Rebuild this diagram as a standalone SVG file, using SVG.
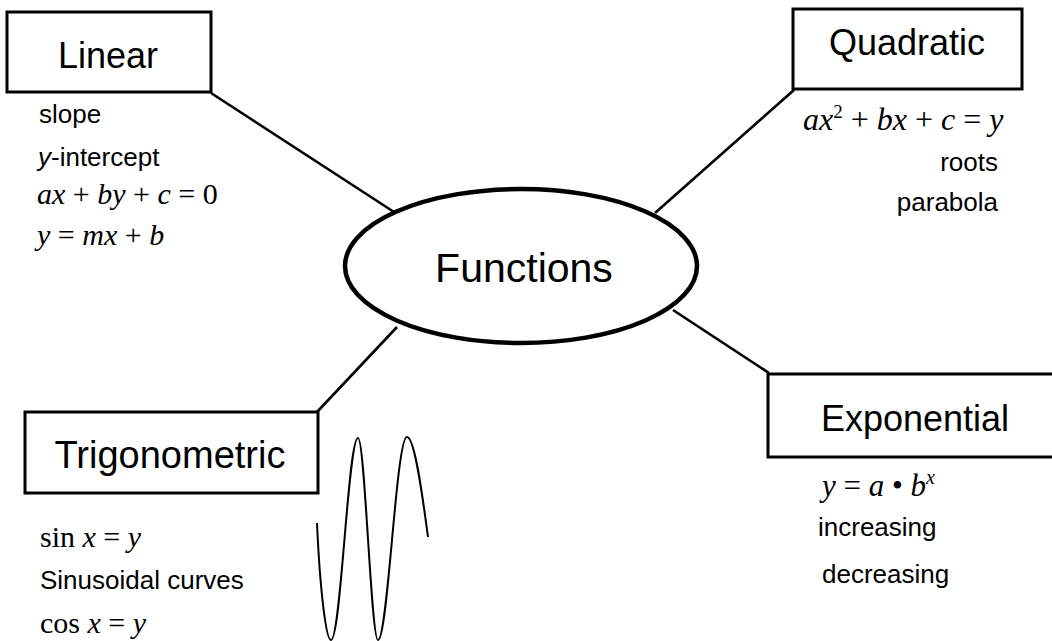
<svg xmlns="http://www.w3.org/2000/svg" width="1052" height="641" viewBox="0 0 1052 641">
<style>
.box{fill:#fff;stroke:#000;stroke-width:3}
.lbl{font-family:"Liberation Sans",Arial,sans-serif;font-size:36px;fill:#000;text-anchor:middle}
.note{font-family:"Liberation Sans",Arial,sans-serif;font-size:26px;fill:#000}
.math{font-family:"Liberation Serif","Times New Roman",serif;font-size:30px;fill:#000}
.it{font-style:italic}
.conn{stroke:#000;stroke-width:2.6;fill:none}
</style>
<rect width="1052" height="641" fill="#fff"/>
<g id="connectors">
<line class="conn" x1="211" y1="93" x2="394" y2="212"/>
<line class="conn" x1="794" y1="90" x2="655" y2="213"/>
<line class="conn" x1="397" y1="327" x2="317" y2="412"/>
<line class="conn" x1="673" y1="310" x2="769" y2="373"/>
</g>
<g id="functions">
<ellipse cx="521" cy="266" rx="176" ry="77" fill="#fff" stroke="#000" stroke-width="4.5"/>
<text class="lbl" x="524" y="282" style="font-size:41px">Functions</text>
</g>
<g id="linear">
<rect class="box" x="7" y="12" width="204" height="80"/>
<text class="lbl" x="108" y="68">Linear</text>
<text class="note" x="39" y="123">slope</text>
<text class="note" x="38" y="166"><tspan class="it">y</tspan>-intercept</text>
<text class="math" x="37" y="204"><tspan class="it">ax</tspan> + <tspan class="it">by</tspan> + <tspan class="it">c</tspan> = 0</text>
<text class="math" x="37" y="245"><tspan class="it">y</tspan> = <tspan class="it">mx</tspan> + <tspan class="it">b</tspan></text>
</g>
<g id="quadratic">
<rect class="box" x="793" y="9" width="229" height="80"/>
<text class="lbl" x="907" y="55">Quadratic</text>
<text class="math" x="803" y="130" style="font-size:32px"><tspan class="it">ax</tspan><tspan dy="-12" style="font-size:19px">2</tspan><tspan dy="12"> + </tspan><tspan class="it">bx</tspan> + <tspan class="it">c</tspan> = <tspan class="it">y</tspan></text>
<text class="note" x="998" y="171" text-anchor="end">roots</text>
<text class="note" x="998" y="211" text-anchor="end">parabola</text>
</g>
<g id="trigonometric">
<rect class="box" x="25" y="412" width="293" height="81"/>
<text class="lbl" x="170" y="468" style="font-size:38px">Trigonometric</text>
<text class="math" x="40" y="547">sin <tspan class="it">x</tspan> = <tspan class="it">y</tspan></text>
<text class="note" x="40" y="589">Sinusoidal curves</text>
<text class="math" x="40" y="633">cos <tspan class="it">x</tspan> = <tspan class="it">y</tspan></text>
<path d="M317,523 C320,590 326,640 331,640 C341,640 348,438 358,438 C365,438 371,640 378,640 C388,640 396,437 407,437 C415,437 423,500 428,537" fill="none" stroke="#000" stroke-width="2"/>
</g>
<g id="exponential">
<path class="box" d="M1054,374 H768 V457 H1054"/>
<text class="lbl" x="915" y="431">Exponential</text>
<text class="math" x="822" y="496" style="font-size:31px"><tspan class="it">y</tspan> = <tspan class="it">a</tspan> • <tspan class="it">b</tspan><tspan class="it" dy="-12" style="font-size:20px">x</tspan></text>
<text class="note" x="818" y="536">increasing</text>
<text class="note" x="822" y="583">decreasing</text>
</g>
</svg>
